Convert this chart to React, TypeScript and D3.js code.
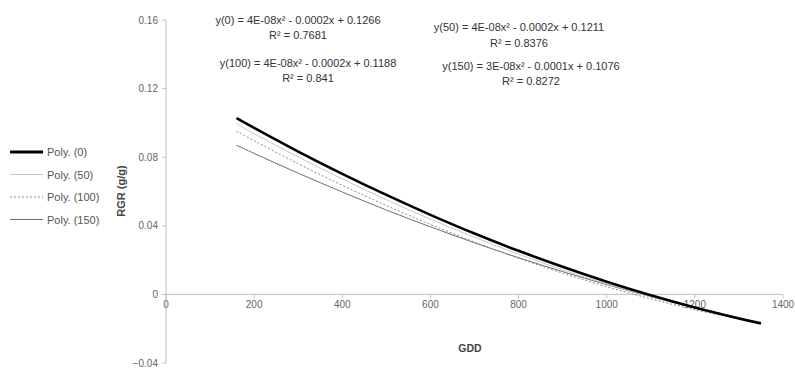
import React from "react";
import * as d3 from "d3";

const gdd = [160, 200, 300, 400, 500, 600, 700, 800, 900, 1000, 1100, 1200, 1300, 1350];
const poly0 = [0.1028, 0.0971, 0.0833, 0.0703, 0.058, 0.0464, 0.0355, 0.0254, 0.0161, 0.0074, -0.0005, -0.0076, -0.014, -0.017];
const poly50 = [0.0994, 0.0937, 0.0801, 0.0673, 0.0552, 0.0439, 0.0333, 0.0234, 0.0144, 0.0061, -0.0014, -0.0082, -0.0142, -0.0169];
const poly100 = [0.0952, 0.0896, 0.0762, 0.0636, 0.0518, 0.0408, 0.0305, 0.0211, 0.0124, 0.0045, -0.0026, -0.0089, -0.0144, -0.0169];
const poly150 = [0.087, 0.0822, 0.0707, 0.0597, 0.0492, 0.0394, 0.0301, 0.0214, 0.0133, 0.0057, -0.0013, -0.0077, -0.0136, -0.0163];

const xTicks = [0, 200, 400, 600, 800, 1000, 1200, 1400];
const yTicks = [-0.04, 0, 0.04, 0.08, 0.12, 0.16];

const seriesNames = ["Poly. (0)", "Poly. (50)", "Poly. (100)", "Poly. (150)"];
const equations = [
  { eq: "y(0) = 4E-08x² - 0.0002x + 0.1266", r2: "R² = 0.7681" },
  { eq: "y(50) = 4E-08x² - 0.0002x + 0.1211", r2: "R² = 0.8376" },
  { eq: "y(100) = 4E-08x² - 0.0002x + 0.1188", r2: "R² = 0.841" },
  { eq: "y(150) = 3E-08x² - 0.0001x + 0.1076", r2: "R² = 0.8272" },
];

const styles = [
  { stroke: "#000", width: 2.6, dash: "" },
  { stroke: "#c8c8c8", width: 1, dash: "" },
  { stroke: "#8a8a8a", width: 1, dash: "2,2" },
  { stroke: "#6e6e6e", width: 1, dash: "" },
];
const eqPos = [
  { x: 298, y: 24, ry: 39 },
  { x: 519, y: 31, ry: 47 },
  { x: 308, y: 67, ry: 82 },
  { x: 531, y: 70, ry: 85 },
];

export default function App() {
  const W = 795, H = 369;
  const x = d3.scaleLinear().domain([0, 1400]).range([166, 783]);
  const y = d3.scaleLinear().domain([-0.04, 0.16]).range([363, 20]);
  const all = [poly0, poly50, poly100, poly150];
  const line = d3
    .line<[number, number]>()
    .x((d) => x(d[0]))
    .y((d) => y(d[1]))
    .curve(d3.curveCatmullRom);
  const font = "'Liberation Sans', Arial, sans-serif";
  const fmtY = (v: number) => (v === 0 ? "0" : d3.format(".2f")(v));
  const drawOrder = [3, 2, 1, 0];
  return (
    <svg width={W} height={H} style={{ position: "absolute", left: 0, top: 0, background: "#fff" }} fontFamily={font}>
      {/* y axis */}
      <line x1={x(0)} x2={x(0)} y1={y(0.16)} y2={y(-0.04)} stroke="#c0c0c0" />
      {yTicks.map((t) => (
        <g key={"y" + t}>
          <line x1={x(0) - 4} x2={x(0)} y1={y(t)} y2={y(t)} stroke="#c0c0c0" />
          <text x={x(0) - 8} y={y(t) + 3.5} textAnchor="end" fontSize={10} fill="#666">
            {fmtY(t)}
          </text>
        </g>
      ))}
      {/* x axis */}
      <line x1={x(0)} x2={x(1400)} y1={y(0)} y2={y(0)} stroke="#c0c0c0" />
      {xTicks.map((t) => (
        <g key={"x" + t}>
          <line x1={x(t)} x2={x(t)} y1={y(0)} y2={y(0) + 4} stroke="#c0c0c0" />
          <text x={x(t)} y={y(0) + 14} textAnchor="middle" fontSize={10} fill="#666">
            {t}
          </text>
        </g>
      ))}
      {/* curves */}
      {drawOrder.map((i) => (
        <path
          key={"s" + i}
          d={line(gdd.map((g, j) => [g, all[i][j]] as [number, number])) || ""}
          fill="none"
          stroke={styles[i].stroke}
          strokeWidth={styles[i].width}
          strokeDasharray={styles[i].dash}
        />
      ))}
      {/* equations */}
      {equations.map((e, i) => (
        <g key={"e" + i} fontSize={11} fill="#333" textAnchor="middle">
          <text x={eqPos[i].x} y={eqPos[i].y}>{e.eq}</text>
          <text x={eqPos[i].x} y={eqPos[i].ry}>{e.r2}</text>
        </g>
      ))}
      {/* axis titles */}
      <text x={470} y={352} textAnchor="middle" fontSize={10.5} fontWeight="bold" fill="#444">
        GDD
      </text>
      <text
        transform={`translate(125,191) rotate(-90)`}
        textAnchor="middle"
        fontSize={11}
        fontWeight="bold"
        fill="#444"
      >
        RGR (g/g)
      </text>
      {/* legend */}
      {seriesNames.map((n, i) => (
        <g key={"l" + i} transform={`translate(0,${152 + i * 22.5})`}>
          <line
            x1={10}
            x2={43}
            y1={0}
            y2={0}
            stroke={styles[i].stroke}
            strokeWidth={i === 0 ? 3 : 1}
            strokeDasharray={styles[i].dash}
          />
          <text x={47} y={4} fontSize={11} fill="#555">
            {n}
          </text>
        </g>
      ))}
    </svg>
  );
}
